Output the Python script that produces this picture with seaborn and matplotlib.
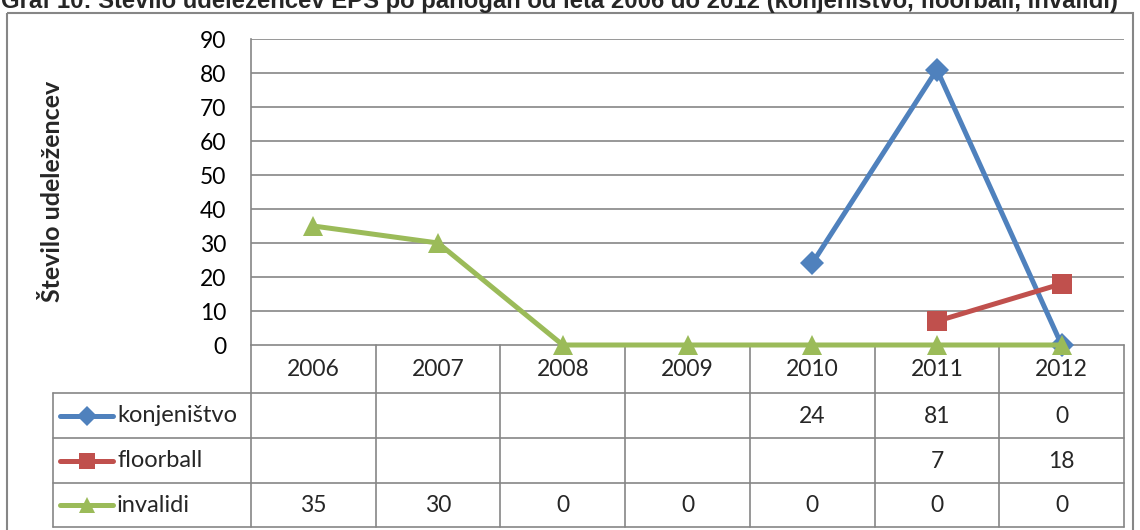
import numpy as np
import pandas as pd
import seaborn as sns
import matplotlib
matplotlib.use("Agg")
import matplotlib.pyplot as plt
from matplotlib.lines import Line2D
from matplotlib.patches import Rectangle

# ---- data ----
years = ["2006", "2007", "2008", "2009", "2010", "2011", "2012"]
konjenistvo = [None, None, None, None, 24, 81, 0]
floorball = [None, None, None, None, None, 7, 18]
invalidi = [35, 30, 0, 0, 0, 0, 0]
series_names = ["konjeništvo", "floorball", "invalidi"]
series_values = [konjenistvo, floorball, invalidi]
y_ticks = [0, 10, 20, 30, 40, 50, 60, 70, 80, 90]
title = "Graf 10: Število udeležencev EPŠ po panogah od leta 2006 do 2012 (konjeništvo, floorball, invalidi)"
ylabel = "Število udeležencev"

# ---- style ----
sns.set_theme(style="white")
plt.rcParams["font.family"] = ["Lato", "DejaVu Sans"]
colors = ["#4F81BD", "#C0504D", "#9BBB59"]
markers = ["D", "s", "^"]
msizes = [12, 14, 14]
grid_c = "#868686"
FS = 16.5
LW = 3.6

W, H = 1140, 530
fig = plt.figure(figsize=(W / 100, H / 100), dpi=100)

# layout in pixels
L, R, T, B = 251, 1124, 39, 345
ax = fig.add_axes([L / W, 1 - B / H, (R - L) / W, (B - T) / H])
ax.set_facecolor("none")

x_idx = np.arange(len(years))
for name, vals, c, m, ms in zip(series_names, series_values, colors, markers, msizes):
    df = pd.DataFrame({"x": x_idx, "y": pd.array(vals, dtype="float")}).dropna()
    sns.lineplot(data=df, x="x", y="y", ax=ax, color=c, lw=LW, marker=m,
                 markersize=ms, markeredgewidth=0, clip_on=False, zorder=5)

ax.set_xlim(-0.5, len(years) - 0.5)
ax.set_ylim(0, 90)
ax.set_yticks(y_ticks)
ax.set_yticklabels([str(v) for v in y_ticks], fontsize=FS, color="black")
ax.tick_params(axis="y", length=0, pad=18)
ax.set_xticks([])
ax.set_xlabel("")
ax.set_ylabel("")
for v in y_ticks[1:]:
    ax.axhline(v, color=grid_c, lw=1.2, zorder=1)
for s in ["top", "right", "bottom"]:
    ax.spines[s].set_visible(False)
ax.spines["left"].set_color(grid_c)
ax.spines["left"].set_linewidth(1.2)

fig.text(53 / W, 1 - 191 / H, ylabel, rotation=90, fontsize=18, fontweight="bold",
         ha="center", va="center")

# ---- overlay for table / frame / title ----
ov = fig.add_axes([0, 0, 1, 1])
ov.set_xlim(0, W)
ov.set_ylim(H, 0)
ov.axis("off")
ov.set_zorder(-1)

ov.add_patch(Rectangle((7, 13), 1126, 540, fill=False, ec=grid_c, lw=1.5, clip_on=False))
ov.text(1, 8, title, fontsize=17.2, fontweight="bold", family=["Liberation Sans"],
        ha="left", va="baseline")

ncol = len(years)
cw = (R - L) / ncol
row_y = [B, 393, 438, 483, 527]
LEG_L = 53
# horizontal lines
ov.plot([L, R], [B, B], color=grid_c, lw=1.2)
for yy in row_y[1:]:
    ov.plot([LEG_L, R], [yy, yy], color=grid_c, lw=1.2)
# vertical lines
for i in range(ncol + 1):
    xx = L + i * cw
    ov.plot([xx, xx], [B, row_y[-1]], color=grid_c, lw=1.2)
ov.plot([LEG_L, LEG_L], [row_y[1], row_y[-1]], color=grid_c, lw=1.2)

# header
for i, yr in enumerate(years):
    ov.text(L + (i + 0.5) * cw, (row_y[0] + row_y[1]) / 2 + 1, yr, fontsize=FS,
            ha="center", va="center")
# rows
for r, (name, vals, c, m, ms) in enumerate(zip(series_names, series_values, colors, markers, msizes)):
    yc = (row_y[r + 1] + row_y[r + 2]) / 2
    ov.add_line(Line2D([60, 113], [yc, yc], color=c, lw=LW))
    ov.add_line(Line2D([86.5], [yc], color=c, marker=m, markersize=ms * 0.85, markeredgewidth=0))
    ov.text(117, yc, name, fontsize=FS + 0.5, ha="left", va="center")
    for i, v in enumerate(vals):
        if v is not None:
            ov.text(L + (i + 0.5) * cw, yc + 1, str(v), fontsize=FS, ha="center", va="center")

fig.savefig("out.png", dpi=100)
